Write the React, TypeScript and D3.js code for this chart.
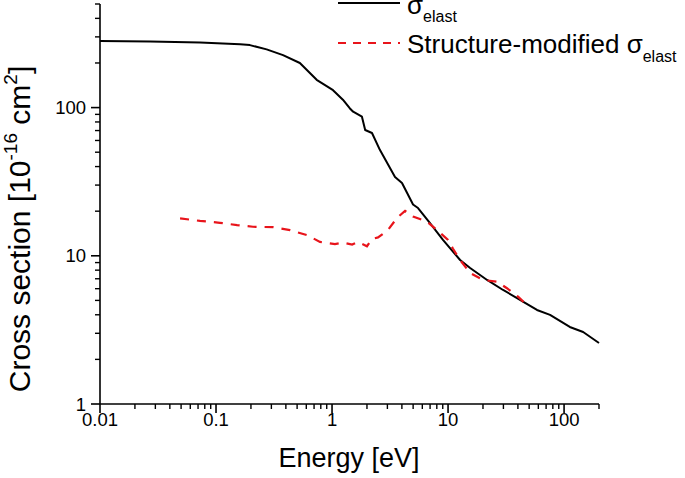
import React from "react";
import * as d3 from "d3";

const energyElast = [0.01, 0.027, 0.0728, 0.161, 0.196, 0.273, 0.378, 0.528, 0.737, 1.02, 1.24, 1.42, 1.52, 1.81, 1.93, 2.21, 2.59, 3.49, 4.01, 4.99, 5.51, 6.99, 9.04, 12.7, 15.5, 21.7, 29.8, 39.3, 58.4, 75.7, 112, 146, 200];
const sigmaElast = [281, 279, 275, 268, 264, 247, 226, 200, 154, 131, 113, 99, 93.8, 86.8, 70.6, 67.4, 51.7, 34, 31, 22.2, 21, 16.6, 12.8, 9.37, 8.27, 6.87, 5.88, 5.19, 4.31, 3.99, 3.31, 3.06, 2.58];

const energyMod = [0.049, 0.0728, 0.108, 0.152, 0.208, 0.31, 0.434, 0.608, 0.787, 1.06, 1.24, 1.49, 1.67, 2.0, 2.21, 2.49, 3.03, 3.63, 4.26, 4.99, 6.58, 8.03, 10, 11.0, 12.7, 15.5, 20.0, 26.4, 32.2, 40.1, 48.9];
const sigmaMod = [17.9, 17.2, 16.7, 16.1, 15.7, 15.6, 14.9, 13.8, 12.4, 12.0, 12.3, 11.9, 12.4, 11.6, 13.0, 13.3, 14.9, 18.0, 20.1, 18.4, 17.0, 14.9, 12.8, 11.2, 9.37, 7.65, 6.87, 6.69, 6.04, 5.3, 4.58];

const xMajorTicks = [0.01, 0.1, 1, 10, 100];
const xTickLabels = ["0.01", "0.1", "1", "10", "100"];
const yMajorTicks = [1, 10, 100];
const yTickLabels = ["1", "10", "100"];

const FONT = "'Liberation Sans', Arial, Helvetica, sans-serif";

export default function App() {
  const x = d3.scaleLog().domain([0.01, 200]).range([100, 599]);
  const y = d3.scaleLog().domain([1, 500]).range([404, 4]);

  const xMinor: number[] = [];
  for (const dec of [0.01, 0.1, 1, 10, 100]) {
    for (let k = 2; k <= 9; k++) {
      const v = dec * k;
      if (v <= 200.0001) xMinor.push(v);
    }
  }
  const yMinor: number[] = [];
  for (const dec of [1, 10, 100]) {
    for (let k = 2; k <= 9; k++) {
      const v = dec * k;
      if (v <= 500.0001) yMinor.push(v);
    }
  }

  const line = d3
    .line<[number, number]>()
    .x((d) => x(d[0]))
    .y((d) => y(d[1]));

  const blackPath = line(energyElast.map((e, i) => [e, sigmaElast[i]]) as [number, number][]) || "";
  const redPath = line(energyMod.map((e, i) => [e, sigmaMod[i]]) as [number, number][]) || "";

  const x0 = x(0.01);
  const x1 = x(200);
  const y0 = y(1);
  const y1 = y(500);

  return (
    <svg
      width={685}
      height={478}
      style={{ position: "absolute", left: 0, top: 0, background: "#fff" }}
      fontFamily={FONT}
    >
      <rect width={685} height={478} fill="#fff" />
      {/* axes */}
      <line x1={x0} x2={x1} y1={y0} y2={y0} stroke="#000" strokeWidth={1.6} />
      <line x1={x0} x2={x0} y1={y1} y2={y0} stroke="#000" strokeWidth={1.6} />
      {xMajorTicks.map((t, i) => (
        <g key={"xm" + i}>
          <line x1={x(t)} x2={x(t)} y1={y0} y2={y0 + 9} stroke="#000" strokeWidth={1.6} />
          <text x={x(t)} y={y0 + 22} fontSize={18.5} textAnchor="middle">
            {xTickLabels[i]}
          </text>
        </g>
      ))}
      {xMinor.map((t, i) => (
        <line key={"xn" + i} x1={x(t)} x2={x(t)} y1={y0} y2={y0 + 5} stroke="#000" strokeWidth={1.4} />
      ))}
      {yMajorTicks.map((t, i) => (
        <g key={"ym" + i}>
          <line x1={x0} x2={x0 - 9} y1={y(t)} y2={y(t)} stroke="#000" strokeWidth={1.6} />
          <text x={x0 - 14} y={y(t) + 6.5} fontSize={18.5} textAnchor="end">
            {yTickLabels[i]}
          </text>
        </g>
      ))}
      {yMinor.map((t, i) => (
        <line key={"yn" + i} x1={x0} x2={x0 - 5} y1={y(t)} y2={y(t)} stroke="#000" strokeWidth={1.4} />
      ))}

      {/* curves */}
      <path d={blackPath} fill="none" stroke="#000" strokeWidth={2} strokeLinejoin="round" />
      <path d={redPath} fill="none" stroke="#e8141b" strokeWidth={2.2} strokeDasharray="9,8" />

      {/* axis titles */}
      <text x={349} y={467} fontSize={27} textAnchor="middle">
        Energy [eV]
      </text>
      <text transform="translate(30,229) rotate(-90)" fontSize={30} textAnchor="middle">
        Cross section [10
        <tspan fontSize={19} dy={-13}>-16</tspan>
        <tspan dy={13}> cm</tspan>
        <tspan fontSize={19} dy={-13}>2</tspan>
        <tspan dy={13}>]</tspan>
      </text>

      {/* legend */}
      <line x1={338} x2={400} y1={3} y2={3} stroke="#000" strokeWidth={2} />
      <text x={407} y={14} fontSize={26}>
        σ<tspan fontSize={16} dy={8}>elast</tspan>
      </text>
      <line x1={338} x2={400} y1={43} y2={43} stroke="#e8141b" strokeWidth={2.2} strokeDasharray="8,7" />
      <text x={407} y={53} fontSize={26}>
        Structure-modified σ<tspan fontSize={16} dy={9}>elast</tspan>
      </text>
    </svg>
  );
}
